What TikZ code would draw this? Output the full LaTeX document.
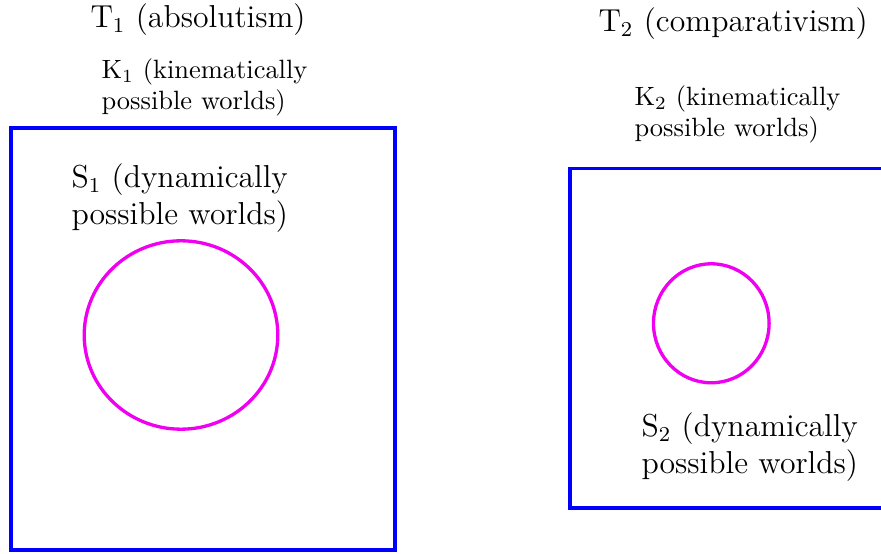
\documentclass[tikz,border=0pt]{standalone}
\begin{document}
\begin{tikzpicture}[x=0.378pt,y=-0.378pt,
  boxline/.style={draw={rgb,255:red,0;green,0;blue,255},line width=1.5pt},
  ringline/.style={draw={rgb,255:red,240;green,0;blue,240},line width=1.25pt},
  bigtext/.style={font=\large,inner sep=0pt,anchor=base west,align=left},
  smalltext/.style={font=\normalsize,inner sep=0pt,anchor=base west,align=left}]
\useasboundingbox (0,0) rectangle (881,554);
\clip (0,0) rectangle (881,554);
% boxes
\path[boxline] (11.3,128) rectangle (394.7,550);
\path[boxline] (570,168.5) rectangle (900,508);
% circles
\path[ringline] (181,335) ellipse [x radius=96.8, y radius=94.2];
\path[ringline] (711.3,323.3) ellipse [x radius=57.8, y radius=59.5];
% texts (base = baseline of the last line)
\node[bigtext] (t1) at (90,28) {T$_1$ (absolutism)};
\node[bigtext] (t2) at (598,32) {T$_2$ (comparativism)};
\node[smalltext] (k1) at (101,110) {K$_1$ (kinematically\\possible worlds)};
\node[smalltext] (k2) at (634,137) {K$_2$ (kinematically\\possible worlds)};
\node[bigtext] (s1) at (71,225) {S$_1$ (dynamically\\possible worlds)};
\node[bigtext] (s2) at (641,474) {S$_2$ (dynamically\\possible worlds)};
\end{tikzpicture}
\end{document}
